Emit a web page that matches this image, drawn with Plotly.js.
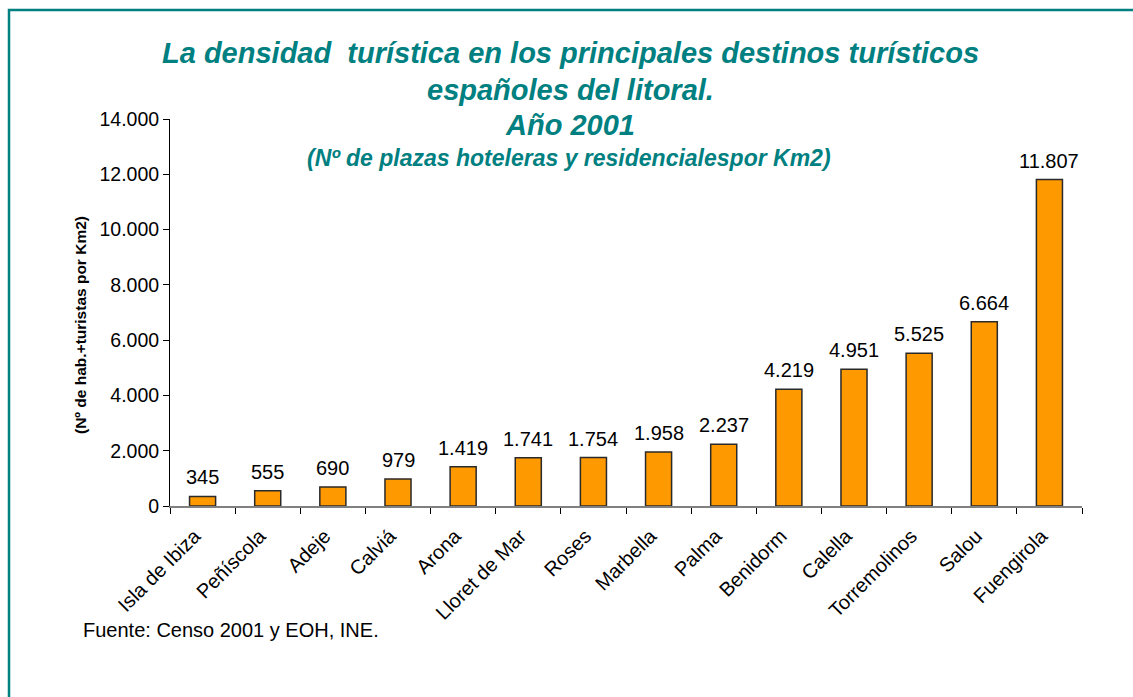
<!DOCTYPE html>
<html>
<head>
<meta charset="utf-8">
<script src="https://cdn.plot.ly/plotly-3.0.1.min.js"></script>
<style>
html,body{margin:0;padding:0;background:#fff;}
#chart{width:1133px;height:697px;}
</style>
</head>
<body>
<div id="chart"></div>
<script>
const categories = ["Isla de Ibiza","Peñíscola","Adeje","Calviá","Arona","Lloret de Mar","Roses","Marbella","Palma","Benidorm","Calella","Torremolinos","Salou","Fuengirola"];
const density = [345,555,690,979,1419,1741,1754,1958,2237,4219,4951,5525,6664,11807];
const yTicks = [0,2000,4000,6000,8000,10000,12000,14000];

const titleLines = ["La densidad\u00a0\u00a0turística en los principales destinos turísticos","españoles del litoral.","Año 2001"];
const subtitle = "(Nº de plazas hoteleras y residencialespor Km2)";
const yTitle = "(Nº de hab.+turistas por Km2)";
const source = "Fuente: Censo 2001 y EOH, INE.";

const FONT = "Arial, 'Liberation Sans', sans-serif";
const TEAL = "#008080";

function fmt(v){ return String(v).replace(/\B(?=(\d{3})+(?!\d))/g, "."); }

// layout geometry (pixels)
const W = 1133, H = 697;
const L = 170, R = 1082, T = 119, B = 506;
const pw = R - L, ph = B - T;
const px = x => (x - L) / pw;
const py = y => (B - y) / ph;

const annotations = [];
const titleY = [53, 90, 125];
titleLines.forEach((t, i) => {
  annotations.push({xref:'paper', yref:'paper', x: px(570), y: py(titleY[i]), xanchor:'center', yanchor:'middle',
    text: '<b><i>' + t + '</i></b>', showarrow:false, font:{family:FONT, size:29, color:TEAL}});
});
annotations.push({xref:'paper', yref:'paper', x: px(569), y: py(158), xanchor:'center', yanchor:'middle',
  text: '<b><i>' + subtitle + '</i></b>', showarrow:false, font:{family:FONT, size:23, color:TEAL}});
annotations.push({xref:'paper', yref:'paper', x: px(80), y: py(325), xanchor:'center', yanchor:'middle', textangle:-90,
  text: '<b>' + yTitle + '</b>', showarrow:false, font:{family:FONT, size:15.5, color:'#000'}});
annotations.push({xref:'paper', yref:'paper', x: px(81), y: py(630), xanchor:'left', yanchor:'middle',
  text: source, showarrow:false, font:{family:FONT, size:20, color:'#000'}});
categories.forEach((c, i) => {
  annotations.push({x: c, y: density[i], xref:'x', yref:'y', xanchor:'center', yanchor:'bottom', yshift:6,
    text: fmt(density[i]), showarrow:false, font:{family:FONT, size:20, color:'#000'}});
});

const trace = {
  type:'bar', x: categories, y: density,
  marker:{color:'#FF9900', line:{color:'#2a2a2a', width:1.5}},
  hoverinfo:'x+y'
};

const layout = {
  width: W, height: H,
  margin:{l:L, r:W-R, t:T, b:H-B, pad:0},
  paper_bgcolor:'#fff', plot_bgcolor:'#fff',
  separators: ',.',
  bargap: 0.6,
  showlegend:false,
  font:{family:FONT, color:'#000'},
  xaxis:{type:'category', tickson:'boundaries', ticks:'outside', ticklen:6, tickcolor:'#000', tickwidth:1,
    showline:true, linecolor:'#808080', linewidth:1.5, tickangle:-45, showgrid:false, zeroline:false,
    ticklabelstandoff:9, ticklabelshift:-8,
    tickfont:{family:FONT, size:20, color:'#000'}, automargin:false},
  yaxis:{range:[0,14000], tickvals: yTicks, ticktext: yTicks.map(fmt), ticks:'outside', ticklen:6, tickcolor:'#000',
    showline:true, linecolor:'#000', linewidth:1, showgrid:false, zeroline:false,
    tickfont:{family:FONT, size:19.5, color:'#000'}, automargin:false},
  annotations: annotations,
  shapes:[{type:'rect', xref:'paper', yref:'paper', x0: px(9), x1: px(1145), y0: py(10), y1: py(720),
    line:{color:TEAL, width:2.5}, fillcolor:'rgba(0,0,0,0)', layer:'below'}]
};

Plotly.newPlot('chart', [trace], layout, {displayModeBar:false, staticPlot:true});
</script>
</body>
</html>
